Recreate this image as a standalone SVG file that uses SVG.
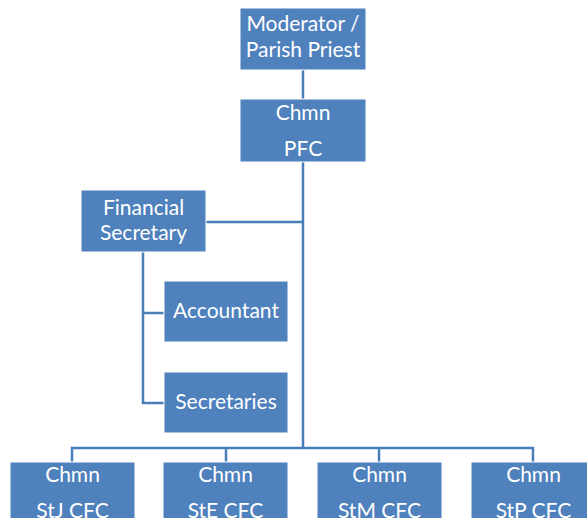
<svg xmlns="http://www.w3.org/2000/svg" width="587" height="518" viewBox="0 0 587 518">
<style>
.box{fill:#4F81BD;stroke:#ffffff;stroke-width:1}
.t{fill:#ffffff;font-family:Lato,"Open Sans","Liberation Sans",sans-serif;font-size:21px;text-anchor:middle}
.c{fill:none;stroke:#4A7EBB;stroke-width:2.5}
</style>
<rect width="587" height="518" fill="#ffffff"/>
<g id="connectors">
<path class="c" d="M303 70V100"/>
<path class="c" d="M303 162V448"/>
<path class="c" d="M206 222H303"/>
<path class="c" d="M143 252V403H164"/>
<path class="c" d="M143 313H164"/>
<path class="c" d="M72 462V448H533V462"/>
<path class="c" d="M226 448V462"/>
<path class="c" d="M379 448V462"/>
</g>
<g id="moderator"><rect class="box" x="240" y="8" width="126" height="62"/><text class="t" x="303" y="31">Moderator /</text><text class="t" x="303" y="57">Parish Priest</text></g>
<g id="pfc"><rect class="box" x="240" y="99" width="126" height="63"/><text class="t" x="303" y="120">Chmn</text><text class="t" x="303" y="156">PFC</text></g>
<g id="finsec"><rect class="box" x="81" y="190" width="125" height="62"/><text class="t" x="143.5" y="215">Financial</text><text class="t" x="143.5" y="240">Secretary</text></g>
<g id="accountant"><rect class="box" x="164" y="281" width="124" height="61"/><text class="t" x="226" y="318">Accountant</text></g>
<g id="secretaries"><rect class="box" x="164" y="372" width="124" height="61"/><text class="t" x="226" y="409">Secretaries</text></g>
<g id="stj"><rect class="box" x="10" y="462" width="125" height="62"/><text class="t" x="72.5" y="482">Chmn</text><text class="t" x="72.5" y="518">StJ CFC</text></g>
<g id="ste"><rect class="box" x="163" y="462" width="125" height="62"/><text class="t" x="225.5" y="482">Chmn</text><text class="t" x="225.5" y="518">StE CFC</text></g>
<g id="stm"><rect class="box" x="317" y="462" width="125" height="62"/><text class="t" x="379.5" y="482">Chmn</text><text class="t" x="379.5" y="518">StM CFC</text></g>
<g id="stp"><rect class="box" x="471" y="462" width="125" height="62"/><text class="t" x="533.5" y="482">Chmn</text><text class="t" x="533.5" y="518">StP CFC</text></g>
</svg>
